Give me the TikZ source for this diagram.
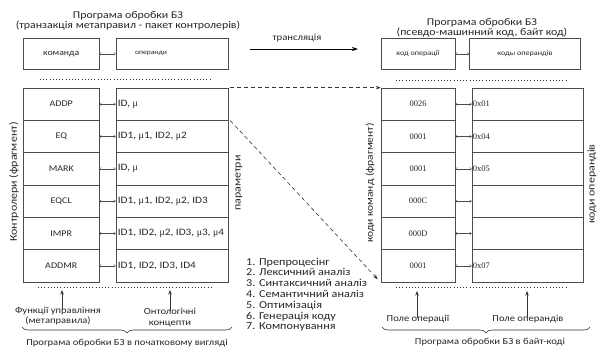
\documentclass[tikz,border=0pt]{standalone}
\usepackage{fontspec}
\setmainfont{Carlito}[FakeStretch=1.15]
\newfontfamily\hexfont{Liberation Serif}
\newcommand{\mmu}{{\hexfont μ}}
\usetikzlibrary{arrows.meta,decorations.pathreplacing}
\begin{document}
\begin{tikzpicture}[x=1pt,y=-1pt, every node/.style={text=black!85},
  box/.style={draw=black!70, line width=0.6pt, inner sep=0pt, minimum height=32.33pt},
  hbox/.style={box, minimum height=31.5pt},
  lcol/.style={minimum width=75.5pt},
  rcol/.style={minimum width=112pt},
  rlcol/.style={minimum width=74pt},
  rrcol/.style={minimum width=111pt},
  celltxt/.style={font=\fontsize{8.7}{10}\selectfont},
  hextxt/.style={font=\fontsize{8.5}{10}\selectfont\hexfont},
  optxt/.style={anchor=west, inner sep=0pt, font=\fontsize{9.8}{11}\selectfont},
  smalltxt/.style={font=\fontsize{7.1}{9}\selectfont},
  dbl/.style={{To[length=2.2pt,width=3pt]}-{To[length=2.2pt,width=3pt]}, line width=0.4pt, black!70},
  dotline/.style={line width=1pt, dash pattern=on 1pt off 2.2pt, black!80},
  uparrow/.style={-{Stealth[length=4.5pt,width=3.5pt]}, line width=0.6pt, black!80},
  dashedarrow/.style={-{Stealth[length=5pt,width=3.5pt]}, line width=0.6pt, dash pattern=on 4pt off 3pt, black!80},
  ttl/.style={font=\fontsize{10.3}{10.2}\selectfont, align=center, inner sep=0pt},
  lbl/.style={font=\fontsize{9.2}{10.5}\selectfont, align=center, inner sep=0pt},
  vlbl/.style={rotate=90, font=\fontsize{10.4}{12}\selectfont, inner sep=0pt},
  brc/.style={decorate, decoration={brace, amplitude=6pt}, line width=0.6pt, black!80}
]
\useasboundingbox (0,0) rectangle (597,349);

% ---------- Left part ----------
\node[ttl] (ltitle) at (128,21) {Програма обробки БЗ\\(транзакція метаправил - пакет контролерів)};
\node[hbox, lcol, font=\fontsize{8.5}{10}\selectfont] (cmd) at (61.25,53.75) {команда};
\node[hbox, rcol] (ops) at (172,53.75) {};
\node[font=\fontsize{6.6}{8}\selectfont, inner sep=0pt] (opstxt) at (151,53.75) {операнди};
\draw[dbl] (cmd) -- (ops);
\coordinate (ld1a) at (40,79); \coordinate (ld1b) at (212,79);
\draw[dotline] (ld1a) -- (ld1b);

\foreach \i/\c/\o in {1/ADDP/{ID, \mmu},2/EQ/{ID1, \mmu1, ID2, \mmu2},3/MARK/{ID, \mmu},4/EQCL/{ID1, \mmu1, ID2, \mmu2, ID3},5/IMPR/{ID1, ID2, \mmu2, ID3, \mmu3, \mmu4},6/ADDMR/{ID1, ID2, ID3, ID4}} {
  \node[box, lcol, celltxt] (lc\i) at (61.25, {88+32.33*(\i-0.5)}) {\c};
  \node[box, rcol] (lo\i) at (172, {88+32.33*(\i-0.5)}) {};
  \node[optxt] (lt\i) at ([xshift=2pt]lo\i.west) {\o};
  \draw[dbl] (lc\i) -- (lo\i);
}
\coordinate (ld2a) at (38,287); \coordinate (ld2b) at (212,287);
\draw[dotline] (ld2a) -- (ld2b);

\node[vlbl] (ctrl) at (14,182) {Контролери (фрагмент)};
\node[vlbl] (par) at (239,183) {параметри};

\node[lbl] (fu) at (58,316) {Функції управління\\(метаправила)};
\node[lbl] (onto) at (170,317.5) {Онтологічні\\концепти};
\coordinate (fa) at (62,290); \coordinate (oa) at (170,290);
\draw[uparrow] ([yshift=-3pt]fu.north -| fa) -- (fa);
\draw[uparrow] ([yshift=-3pt]onto.north) -- (oa);
\coordinate (lb1) at (232,327); \coordinate (lb2) at (22,327);
\draw[brc] (lb1) -- (lb2);
\node[lbl] (lprog) at (127,343) {Програма обробки БЗ в початковому вигляді};

% ---------- Middle ----------
\node[lbl, font=\fontsize{9.3}{10}\selectfont] (trans) at (297,38) {трансляція};
\coordinate (ta) at (250,49); \coordinate (tb) at (358,49);
\draw[-{Stealth[length=6pt,width=4pt]}, line width=0.8pt] (ta) -- (tb);

\node[font=\fontsize{10.6}{10.8}\selectfont, align=left, anchor=north west, inner sep=0pt] (steps) at (246,257.5) {1. Препроцесінг\\2. Лексичний аналіз\\3. Синтаксичний аналіз\\4. Семантичний аналіз\\5. Оптимізація\\6. Генерація коду\\7. Компонування};

% ---------- Right part ----------
\node[ttl] (rtitle) at (482,27.5) {Програма обробки БЗ\\(псевдо-машинний код, байт код)};
\node[hbox, rlcol, smalltxt] (opc) at (418,53.75) {код операції};
\node[hbox, rrcol, smalltxt] (opd) at (525,53.75) {коды операндів};
\draw[dbl] (opc) -- (opd);
\coordinate (rd1a) at (396,80); \coordinate (rd1b) at (568,80);
\draw[dotline] (rd1a) -- (rd1b);

\foreach \i/\c/\o in {1/0026/0x01,2/0001/0x04,3/0001/0x05,4/000C/{},5/000D/{},6/0001/0x07} {
  \node[box, rlcol, hextxt] (rc\i) at (418, {88+32.33*(\i-0.5)}) {\c};
  \node[box, rrcol] (ro\i) at (527.5, {88+32.33*(\i-0.5)}) {};
  \node[optxt, font=\fontsize{8.5}{10}\selectfont\hexfont] (rt\i) at ([xshift=1pt]ro\i.west) {\o};
  \draw[dbl] (rc\i) -- (ro\i);
}
\coordinate (rd2a) at (396,287); \coordinate (rd2b) at (568,287);
\draw[dotline] (rd2a) -- (rd2b);

\node[vlbl, font=\fontsize{10}{12}\selectfont] (kk) at (370,183) {коди команд (фрагмент)};
\node[vlbl] (ko) at (592,184) {коди операндів};

\node[lbl] (po) at (418,319) {Поле операції};
\node[lbl] (pd) at (528,319) {Поле операндів};
\coordinate (pa) at (417,291); \coordinate (pb) at (527,291);
\draw[uparrow] ([yshift=-3pt]po.north -| pa) -- (pa);
\draw[uparrow] ([yshift=-3pt]pd.north -| pb) -- (pb);
\coordinate (rb1) at (590,327); \coordinate (rb2) at (382,327);
\draw[brc] (rb1) -- (rb2);
\node[lbl] (rprog) at (490,342) {Програма обробки БЗ в байт-коді};

% ---------- Dashed connectors ----------
\draw[dashedarrow] ([xshift=2pt]lo1.north east) -- (ro1.north west -| rc1.west);
\draw[dashedarrow] ([xshift=2pt]lo1.south east) -- ([xshift=-3pt,yshift=3pt]rc6.south west);
\end{tikzpicture}
\end{document}
